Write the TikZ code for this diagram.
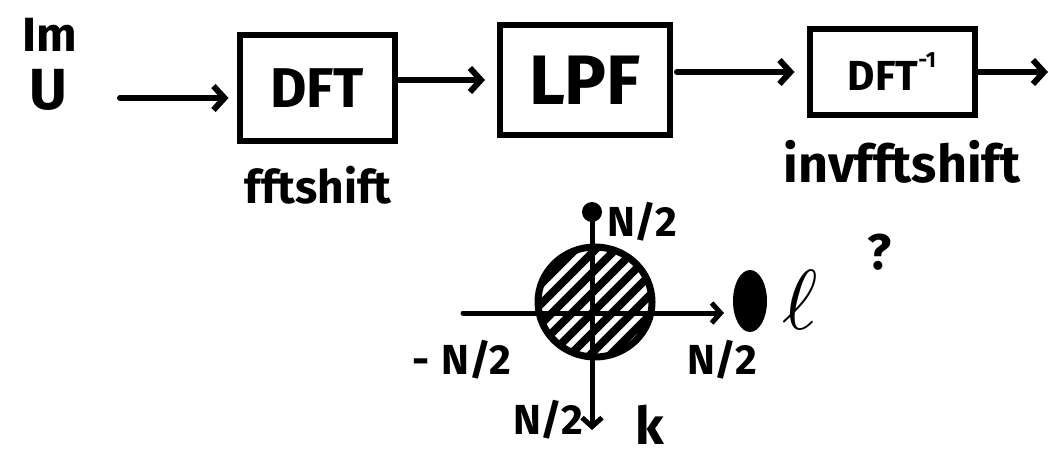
\documentclass[tikz,border=0pt]{standalone}
\usepackage{fontspec}
\setmainfont{Fira Sans}
\usetikzlibrary{arrows.meta,shapes.geometric}
\newcommand{\fs}[1]{\fontsize{#1}{#1}\selectfont}
\begin{document}
\begin{tikzpicture}[x=1pt,y=1pt,
  ink/.style={line width=6pt, line cap=round, line join=round},
  blockbox/.style={draw, line width=6pt, inner sep=0pt},
  lbl/.style={inner sep=0pt, font=\bfseries\fs{#1}},
  flow/.style={ink, -{Straight Barb[length=11pt,width=24pt,line width=6pt]}},
  axis/.style={line width=5pt, line cap=round}]
\useasboundingbox (0,0) rectangle (1051,-460);
% input label
\node[lbl=48] (im) at (50,-35) {Im};
\node[lbl=58] (u) at (48,-90) {U};
% blocks
\node[blockbox, minimum width=155pt, minimum height=105pt, font=\bfseries\fs{56}] (dft) at (317,-88) {DFT};
\node[blockbox, minimum width=170pt, minimum height=110pt, font=\bfseries\fs{70}] (lpf) at (585,-80) {LPF};
\node[blockbox, minimum width=165pt, minimum height=85pt, font=\bfseries\fs{42}] (idft) at (892,-72) {DFT\raisebox{0.55em}{\fs{22}-1}};
% sub-labels
\node[lbl=46] (fsh) at (318,-185) {fftshift};
\node[lbl=52] (ifsh) at (902,-162) {invfftshift};
% connectors
\coordinate (a1) at (120,-98);
\coordinate (out) at (1048,-72);
\draw[flow, shorten >=8pt] (a1) -- (a1 -| dft.west);
\draw[flow, shorten >=12pt] (dft.east |- lpf.west) -- (lpf.west);
\draw[flow, shorten <=4pt, shorten >=12pt] (lpf.east |- idft.west) -- (idft.west);
\draw[flow] (idft.east) -- (out);
% frequency plane
\coordinate (xl) at (463,-313);
\coordinate (xr) at (724,-313);
\coordinate (yt) at (592,-212);
\coordinate (yb) at (592,-430);
\begin{scope}
  \clip (595,-302) ellipse (54 and 52);
  \foreach \i in {-5,...,5}
    \draw[line width=8pt] (\i*20+535,-370) -- ++(130,130);
\end{scope}
\node[ellipse, draw, line width=7pt, minimum width=114pt, minimum height=110pt] (disc) at (595,-302) {};
\draw[axis, -{Straight Barb[length=9pt,width=20pt,line width=5pt]}] (xl) -- (xr);
\draw[axis, -{Straight Barb[length=9pt,width=20pt,line width=5pt]}] (yt) -- (yb);
\fill (yt) circle (10pt);
% axis labels
\node[lbl=42] (nt) at (642,-222) {N/2};
\node[lbl=42] (nl) at (462,-360) {-\hspace{12pt}N/2};
\node[lbl=42] (nr) at (722,-360) {N/2};
\node[lbl=42] (nb) at (548,-420) {N/2};
\node[lbl=52] (k) at (650,-425) {k};
\fill (750,-301) ellipse (17 and 31);
\node[inner sep=0pt] (ell) at (800,-300) {\scalebox{8.5}{$\ell$}};
\node[lbl=50] (q) at (880,-252) {?};
\end{tikzpicture}
\end{document}
